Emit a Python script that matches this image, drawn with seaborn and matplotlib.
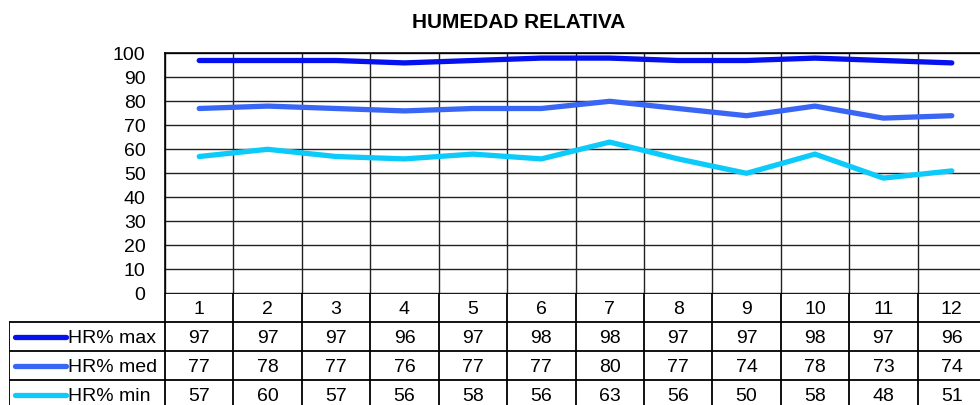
import numpy as np
import pandas as pd
import seaborn as sns
import matplotlib.pyplot as plt

# values from the data table
meses = ["1", "2", "3", "4", "5", "6", "7", "8", "9", "10", "11", "12"]
hr_max = [97, 97, 97, 96, 97, 98, 98, 97, 97, 98, 97, 96]
hr_med = [77, 78, 77, 76, 77, 77, 80, 77, 74, 78, 73, 74]
hr_min = [57, 60, 57, 56, 58, 56, 63, 56, 50, 58, 48, 51]
series = ["HR% max", "HR% med", "HR% min"]
colores = ["#0511EE", "#3A66F5", "#0CCBFA"]

sns.set_theme(style="white")
plt.rcParams['font.family'] = ['Liberation Sans', 'DejaVu Sans']
plt.rcParams['text.color'] = 'black'

df = pd.DataFrame({"pos": list(range(len(meses))) * 3,
                   "valor": hr_max + hr_med + hr_min,
                   "serie": [s for s in series for _ in meses]})

W, H = 980, 405
x0, x1 = 165, 986          # plot area in pixels
y_top, y_bot = 53.3, 293.3
row_h = 29
fs = 14

fig = plt.figure(figsize=(W / 100, H / 100), dpi=100)
ax = fig.add_axes([x0 / W, (H - y_bot) / H, (x1 - x0) / W, (y_bot - y_top) / H])

sns.lineplot(data=df, x="pos", y="valor", hue="serie", palette=colores,
             linewidth=3.8, legend=False, ax=ax, solid_capstyle="round")

n = len(meses)
ax.set_xlim(-0.5, n - 0.5)
ax.set_ylim(0, 100)
ax.set_yticks(np.arange(0, 101, 10))
ax.tick_params(axis="y", labelsize=fs, colors="black", length=0, pad=14)
ax.set_xticks(np.arange(-0.5, n, 1.0))
ax.set_xticklabels([])
ax.tick_params(axis="x", length=0)
ax.grid(True, color="#222222", linewidth=1.0)
ax.set_axisbelow(True)
ax.set_xlabel("")
ax.set_ylabel("")
for s in ["top", "left"]:
    ax.spines[s].set_color("black")
    ax.spines[s].set_linewidth(1.2)
ax.spines["right"].set_visible(False)
ax.spines["bottom"].set_visible(False)

fig.text(519 / W, (H - 22) / H, "HUMEDAD RELATIVA", color="black",
         ha="center", va="center", fontsize=15, fontweight="bold")

# data table below the plot
px_unit = (x1 - x0) / n
left = -0.5 - (x0 - 9.3) / px_unit
tab_h = 4 * row_h
tab = fig.add_axes([9.3 / W, (H - y_bot - tab_h) / H, (x1 - 9.3) / W, tab_h / H])
tab.set_xlim(left, n - 0.5)
tab.set_ylim(4, 0)
tab.axis("off")

lw = 1.3
tab.hlines(0, -0.5, n - 0.5, color="black", lw=lw)
tab.hlines([1, 2, 3, 4], left, n - 0.5, color="black", lw=lw)
tab.vlines(np.arange(-0.5, n, 1.0), 0, 4, color="black", lw=lw)
tab.vlines(left, 1, 4, color="black", lw=lw)

for i, m in enumerate(meses):
    tab.text(i, 0.55, m, ha="center", va="center", fontsize=fs, color="black")
for r, (nombre, vals, c) in enumerate(zip(series, [hr_max, hr_med, hr_min], colores)):
    y = r + 1.5
    tab.plot([left + 0.08, left + 0.83], [y, y], color=c, lw=3.8, solid_capstyle="round")
    tab.text(left + 0.86, y + 0.05, nombre, ha="left", va="center", fontsize=fs, color="black")
    for i, v in enumerate(vals):
        tab.text(i, y + 0.05, str(v), ha="center", va="center", fontsize=fs, color="black")

fig.savefig("out.png", dpi=100)
